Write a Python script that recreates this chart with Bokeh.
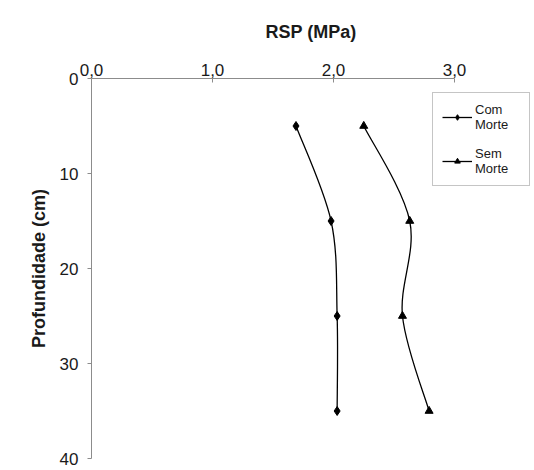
from bokeh.plotting import figure
from bokeh.models import Range1d, FixedTicker, Legend, LegendItem
from bokeh.embed import file_html
from bokeh.resources import INLINE

depth = [5, 15, 25, 35]
com_morte = [1.69, 1.98, 2.03, 2.03]
sem_morte = [2.25, 2.63, 2.57, 2.79]
x_ticks = [0, 1, 2, 3]
x_tick_labels = ["0,0", "1,0", "2,0", "3,0"]
y_ticks = [0, 10, 20, 30, 40]
y_tick_labels = ["0", "10", "20", "30", "40"]
series_names = ["Com\nMorte", "Sem\nMorte"]


def smooth(xs, ys):
    """Bezier control points for a smoothed line through the data points."""
    px = [xs[0]] + list(xs) + [xs[-1]]
    py = [ys[0]] + list(ys) + [ys[-1]]
    out = dict(x0=[], y0=[], x1=[], y1=[], cx0=[], cy0=[], cx1=[], cy1=[])
    for i in range(1, len(xs)):
        out["x0"].append(px[i]); out["y0"].append(py[i])
        out["x1"].append(px[i + 1]); out["y1"].append(py[i + 1])
        out["cx0"].append(px[i] + (px[i + 1] - px[i - 1]) / 6)
        out["cy0"].append(py[i] + (py[i + 1] - py[i - 1]) / 6)
        out["cx1"].append(px[i + 1] - (px[i + 2] - px[i]) / 6)
        out["cy1"].append(py[i + 1] - (py[i + 2] - py[i]) / 6)
    return out


FONT = "Liberation Sans"
GRAY = "#8c8c8c"

# frame: x 0..3 over 363 px, extended to the right so the legend fits inside
p = figure(width=522, height=458, x_range=Range1d(0, 3.628), y_range=Range1d(40, 0),
           x_axis_location="above", output_backend="svg", toolbar_location=None,
           min_border_left=79, min_border_top=66, min_border_right=4, min_border_bottom=12)
p.styles = {"margin-left": "12px", "margin-top": "12px"}
p.outline_line_color = None
p.grid.visible = False
p.background_fill_color = "white"
p.border_fill_color = "white"

xa = p.xaxis[0]
xa.ticker = FixedTicker(ticks=x_ticks)
xa.bounds = (0, 3)
xa.major_label_overrides = {t: l for t, l in zip(x_ticks, x_tick_labels)}
xa.major_tick_in = 4
xa.major_tick_out = 0
xa.minor_tick_line_color = None
xa.major_label_standoff = 3
xa.axis_label = "RSP (MPa)"
xa.axis_label_standoff = 19

ya = p.yaxis[0]
ya.ticker = FixedTicker(ticks=y_ticks)
ya.major_label_overrides = {t: l for t, l in zip(y_ticks, y_tick_labels)}
ya.major_tick_in = 0
ya.major_tick_out = 4
ya.minor_tick_line_color = None
ya.major_label_standoff = 9
ya.axis_label = "Profundidade (cm)"
ya.axis_label_standoff = 8

for ax in (xa, ya):
    ax.axis_line_color = GRAY
    ax.major_tick_line_color = GRAY
    ax.major_label_text_font = FONT
    ax.major_label_text_font_size = "17px"
    ax.major_label_text_color = "#1a1a1a"
    ax.axis_label_text_font = FONT
    ax.axis_label_text_font_size = "18px"
    ax.axis_label_text_font_style = "bold"
    ax.axis_label_text_color = "#1a1a1a"

items = []
for vals, marker, size, name in [(com_morte, "diamond", 9, series_names[0]),
                                 (sem_morte, "triangle", 8, series_names[1])]:
    seg = smooth(vals, depth)
    b = p.bezier(x0="x0", y0="y0", x1="x1", y1="y1", cx0="cx0", cy0="cy0",
                 cx1="cx1", cy1="cy1", source=seg, line_color="black", line_width=1.3)
    s = p.scatter(vals, depth, marker=marker, size=size, fill_color="black", line_color="black")
    items.append(LegendItem(label=name, renderers=[b, s]))

legend = Legend(items=items, location=(341, 272))
legend.label_text_font = FONT
legend.label_text_font_size = "13px"
legend.label_text_line_height = 1.1
legend.label_text_color = "#1a1a1a"
legend.glyph_width = 30
legend.glyph_height = 14
legend.label_standoff = 3
legend.label_width = 45
legend.spacing = 14
legend.padding = 9
legend.margin = 0
legend.border_line_color = GRAY
legend.border_line_width = 1
legend.background_fill_alpha = 1
p.add_layout(legend, "center")

open("out.html", "w").write(file_html(p, INLINE))
